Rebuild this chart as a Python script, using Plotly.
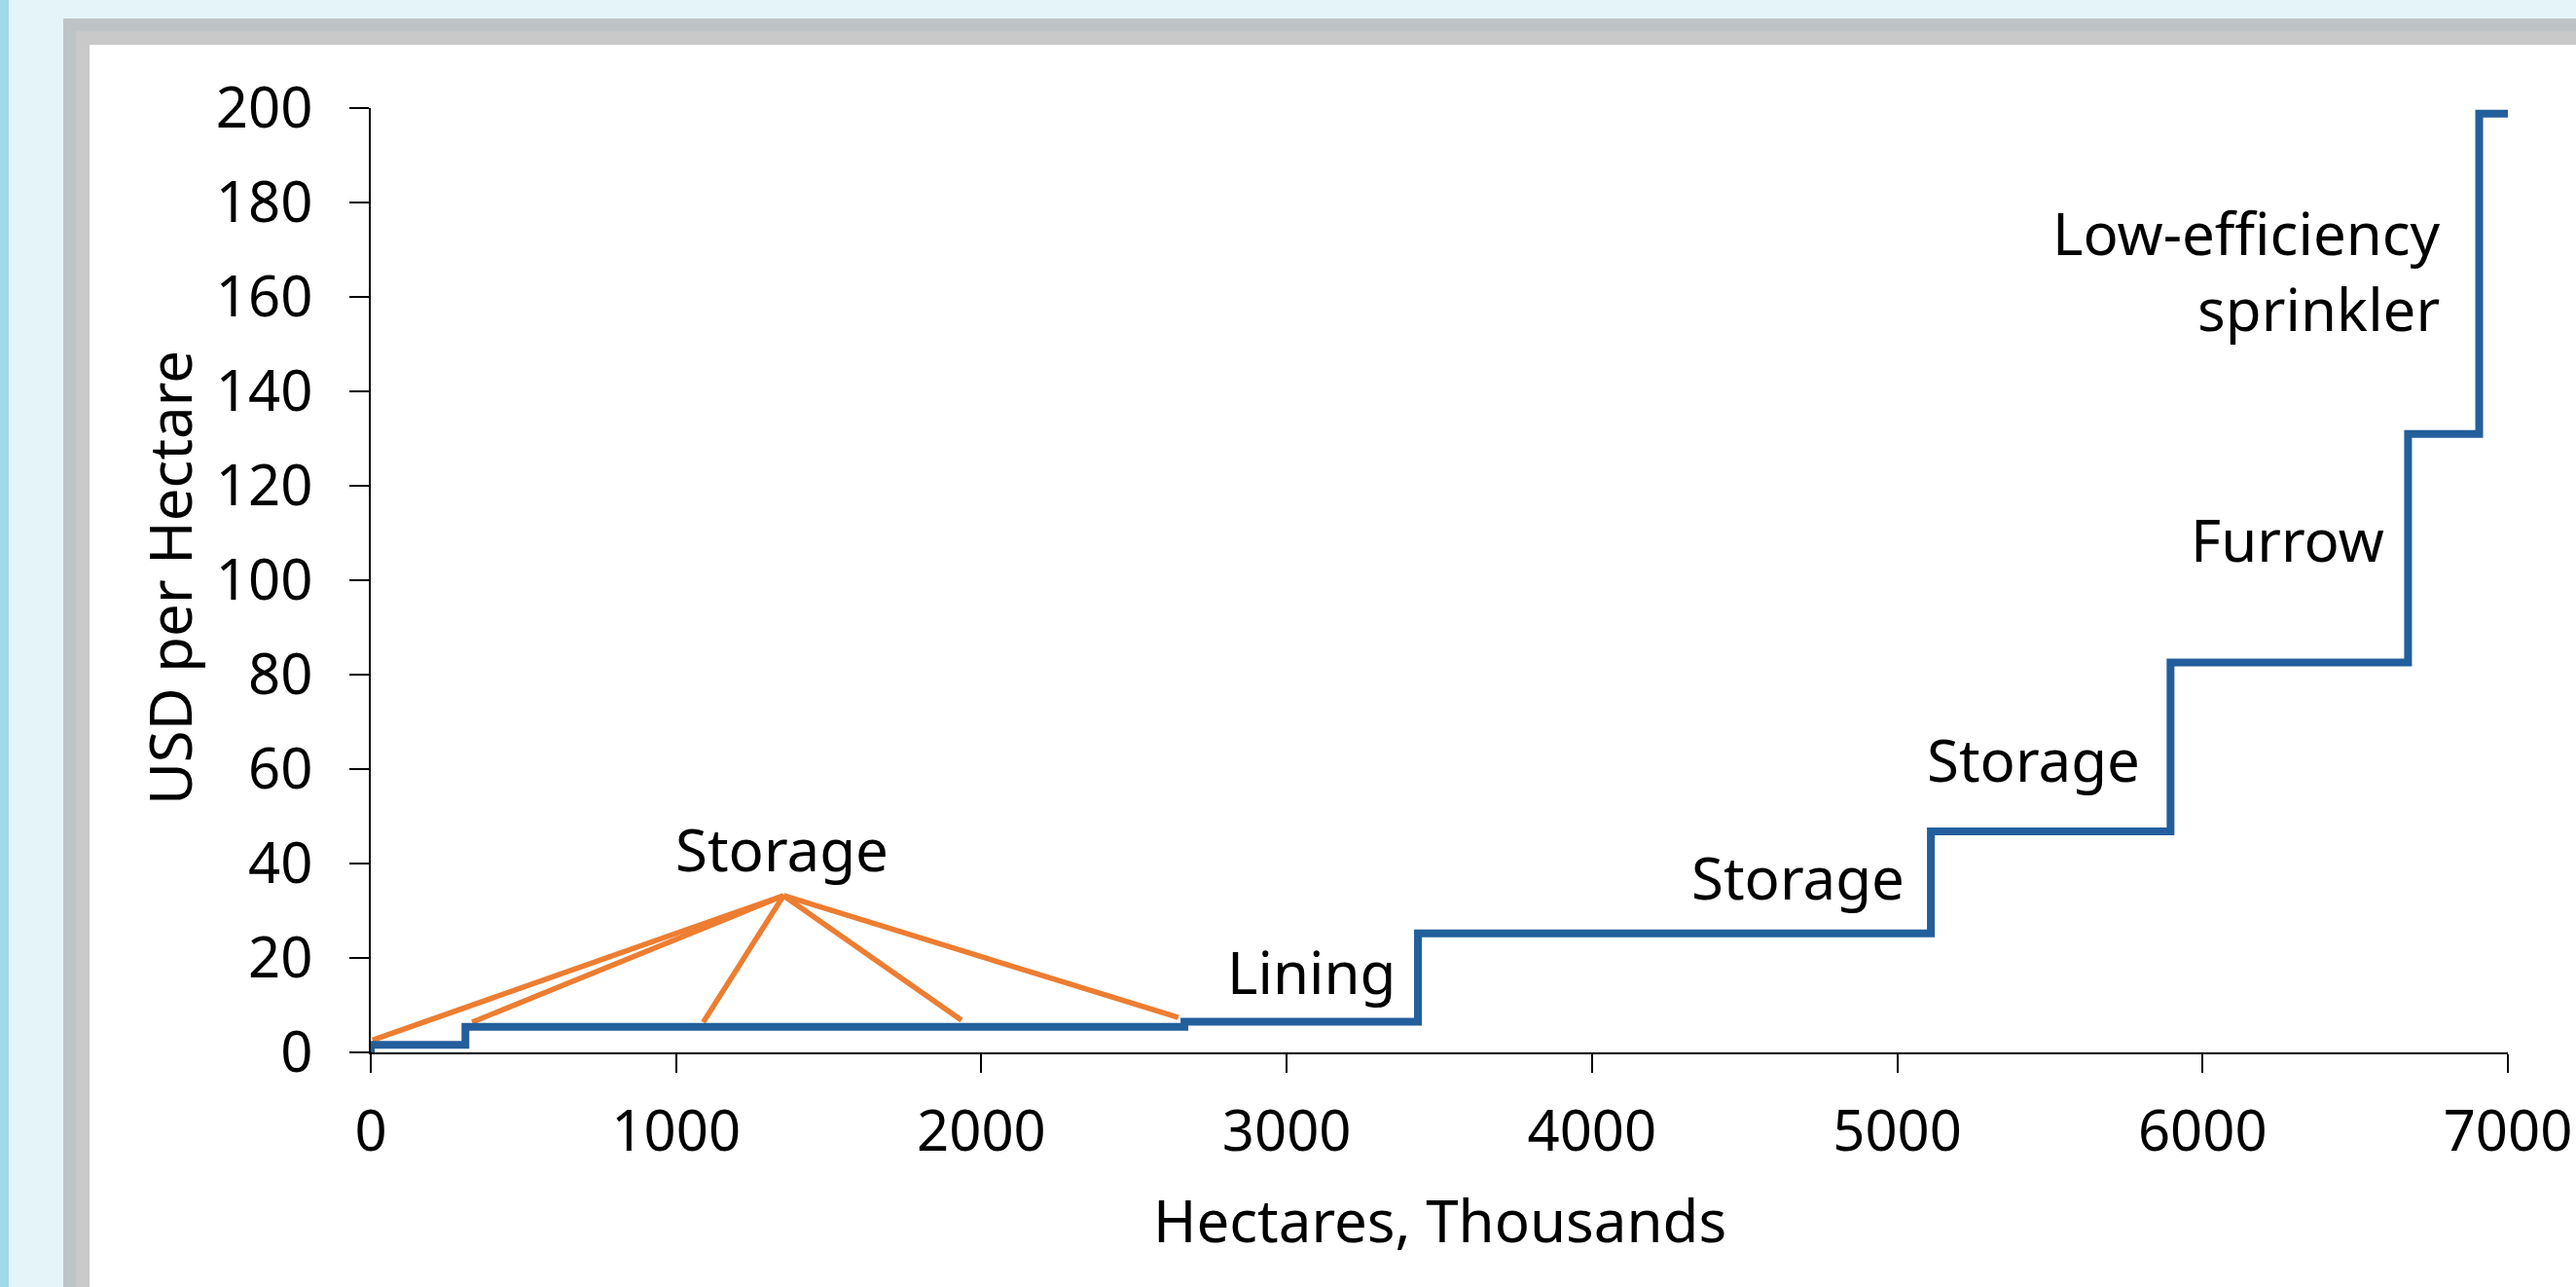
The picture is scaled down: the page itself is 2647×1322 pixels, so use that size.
import plotly.graph_objects as go

# ---- data ----
step_x = [0, 0, 310, 2665, 3430, 5110, 5895, 6673, 6906, 7000]
step_y = [0, 1.6, 5.4, 6.5, 25.2, 46.8, 82.6, 131.0, 198.8, 198.8]

callout_apex = (1352, 33.2)
callout_tx = [6, 332, 1089, 1935, 2645]
callout_ty = [2.6, 6.4, 6.4, 6.8, 7.4]

labels_text = ["Lining", "Storage", "Storage", "Furrow", "Low-efficiency<br>sprinkler"]
labels_x = [3362, 5030, 5800, 6603, 6787]
labels_y = [17.1, 37.2, 62.0, 108.7, 165.6]

storage_label = ("Storage", 1348, 43.0)

x_ticks = [0, 1000, 2000, 3000, 4000, 5000, 6000, 7000]
y_ticks = [0, 20, 40, 60, 80, 100, 120, 140, 160, 180, 200]

# ---- figure geometry (pixels) ----
W, H = 2647, 1322
L, R, T, B = 381, 2577, 111, 1081
pw, ph = R - L, B - T

def px(x):
    return (x - L) / pw

def py(y):
    return (B - y) / ph

FONT = "Noto Sans"
FS = 58      # tick labels
FS_TXT = 60  # labels & titles

fig = go.Figure()

# callout lines
cx, cy = [], []
for tx, ty in zip(callout_tx, callout_ty):
    cx += [callout_apex[0], tx, None]
    cy += [callout_apex[1], ty, None]
fig.add_trace(go.Scatter(x=cx, y=cy, mode="lines",
                         line=dict(color="#ED7D31", width=5.5),
                         hoverinfo="skip", showlegend=False))

# step curve
fig.add_trace(go.Scatter(x=step_x, y=step_y, mode="lines", line_shape="hv",
                         line=dict(color="#235F9C", width=8),
                         showlegend=False))

shapes = [
    dict(type="rect", xref="paper", yref="paper", x0=px(0), x1=px(9), y0=py(0), y1=py(H),
         fillcolor="#A0D9EA", line_width=0, layer="below"),
    dict(type="rect", xref="paper", yref="paper", x0=px(65), x1=px(W), y0=py(19), y1=py(H),
         fillcolor="#BEC4C6", line_width=0, layer="below"),
    dict(type="rect", xref="paper", yref="paper", x0=px(78), x1=px(W), y0=py(32), y1=py(H),
         fillcolor="#C9C9C9", line_width=0, layer="below"),
    dict(type="rect", xref="paper", yref="paper", x0=px(92), x1=px(W), y0=py(46), y1=py(H),
         fillcolor="#FFFFFF", line_width=0, layer="below"),
]

annotations = []
for t, x, y in zip(labels_text, labels_x, labels_y):
    annotations.append(dict(text=t, x=x, y=y, xref="x", yref="y", showarrow=False,
                            xanchor="right", yanchor="middle", align="right",
                            font=dict(family=FONT, size=FS_TXT, color="black")))
annotations.append(dict(text=storage_label[0], x=storage_label[1], y=storage_label[2],
                        xref="x", yref="y", showarrow=False, xanchor="center", yanchor="middle",
                        font=dict(family=FONT, size=FS_TXT, color="black")))
annotations.append(dict(text="USD per Hectare", x=px(174), y=py(594), xref="paper", yref="paper",
                        showarrow=False, textangle=-90, xanchor="center", yanchor="middle",
                        font=dict(family=FONT, size=FS_TXT, color="black")))
annotations.append(dict(text="Hectares, Thousands", x=px(1479), y=py(1253), xref="paper", yref="paper",
                        showarrow=False, xanchor="center", yanchor="middle",
                        font=dict(family=FONT, size=FS_TXT, color="black")))

fig.update_layout(
    width=W, height=H, autosize=False,
    margin=dict(l=L, r=W - R, t=T, b=H - B, pad=0, autoexpand=False),
    paper_bgcolor="#E4F4F9",
    plot_bgcolor="rgba(0,0,0,0)",
    shapes=shapes,
    annotations=annotations,
    font=dict(family=FONT, size=FS, color="black"),
    xaxis=dict(range=[0, 7000], tickvals=x_ticks, ticktext=[str(v) for v in x_ticks],
               showgrid=False, zeroline=False, showline=True, linecolor="black", linewidth=2,
               ticks="outside", ticklen=19, tickwidth=2, tickcolor="black", automargin=False,
               tickfont=dict(family=FONT, size=FS, color="black"), ticklabelstandoff=10),
    yaxis=dict(range=[0, 200], tickvals=y_ticks, ticktext=[str(v) for v in y_ticks],
               showgrid=False, zeroline=False, showline=True, linecolor="black", linewidth=2,
               ticks="outside", ticklen=20, tickwidth=2, tickcolor="black", automargin=False,
               tickfont=dict(family=FONT, size=FS, color="black"), ticklabelstandoff=26),
)

fig.write_html(
    "out.html",
    config={"displayModeBar": False, "responsive": False},
    post_script="document.body.style.margin='0';document.body.style.overflow='hidden';",
)
